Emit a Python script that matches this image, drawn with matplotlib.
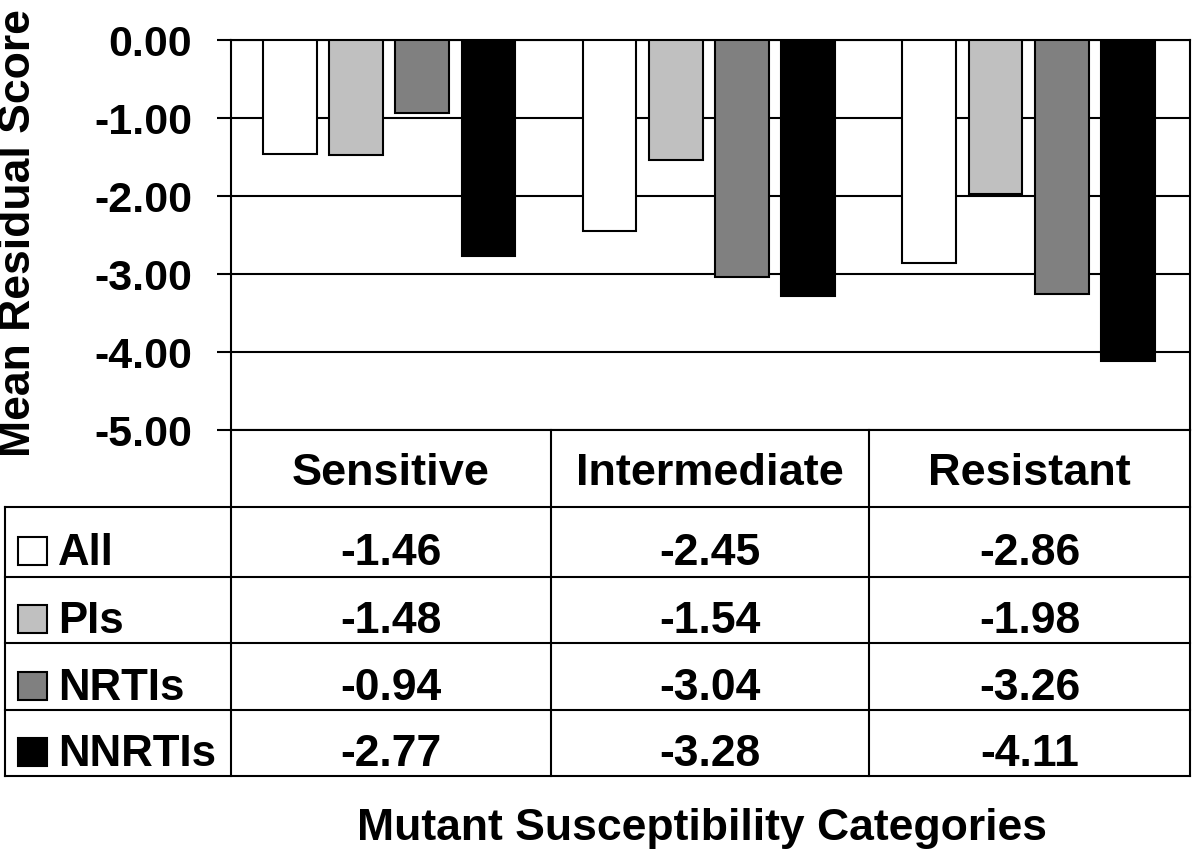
import matplotlib
matplotlib.use("Agg")
import matplotlib.pyplot as plt
from matplotlib.patches import Rectangle
from matplotlib.lines import Line2D
import numpy as np

# data
categories = ["Sensitive", "Intermediate", "Resistant"]
series_names = ["All", "PIs", "NRTIs", "NNRTIs"]
all_vals = [-1.46, -2.45, -2.86]
pis_vals = [-1.48, -1.54, -1.98]
nrtis_vals = [-0.94, -3.04, -3.26]
nnrtis_vals = [-2.77, -3.28, -4.11]
y_ticks = [0, -1, -2, -3, -4, -5]

series_vals = [all_vals, pis_vals, nrtis_vals, nnrtis_vals]
colors = ["#ffffff", "#c0c0c0", "#808080", "#000000"]

plt.rcParams["font.family"] = ["Liberation Sans", "DejaVu Sans"]
plt.rcParams["font.weight"] = "bold"

W, H = 1200, 852
fig = plt.figure(figsize=(W / 100, H / 100), dpi=100)


def fx(px):
    return px / W


def fy(py):
    return 1 - py / H


# plot area in pixel coords
left, right, top, bottom = 231, 1190, 40, 430
ax = fig.add_axes([fx(left), fy(bottom), fx(right - left), (bottom - top) / H])

n = len(categories)
x = np.arange(n)
step = 0.207
width = 0.168
for i, (vals, col) in enumerate(zip(series_vals, colors)):
    ax.bar(x + (i - 1.5) * step - 0.005, vals, width=width, color=col,
           edgecolor="black", linewidth=1.5, zorder=3)

ax.set_xlim(-0.5, n - 0.5)
ax.set_ylim(-5, 0)
ax.set_yticks(y_ticks)
ax.set_yticklabels([f"{v:.2f}" for v in y_ticks], fontsize=31, fontweight="bold")
ax.set_xticks([])
ax.tick_params(axis="y", direction="out", length=10, width=1.5, pad=18)
ax.yaxis.grid(True, color="black", linewidth=1.5, zorder=0)
ax.set_axisbelow(True)
for s in ["left", "bottom", "top", "right"]:
    ax.spines[s].set_linewidth(1.5)

fig.text(fx(19), fy(233), "Mean Residual Score", rotation=90, ha="center",
         va="center", fontsize=32, fontweight="bold")

# table below the plot
col_x = [231, 551, 869, 1190]
row_y = [430, 507, 577, 643, 710, 776]
lw = 1.5


def hline(y, x0, x1):
    fig.add_artist(Line2D([fx(x0), fx(x1)], [fy(y), fy(y)], color="black", lw=lw))


def vline(xp, y0, y1):
    fig.add_artist(Line2D([fx(xp), fx(xp)], [fy(y0), fy(y1)], color="black", lw=lw))


for xp in col_x:
    vline(xp, 430, 776)
vline(5, 507, 776)
for yp in row_y[1:]:
    hline(yp, 5, 1190)

for j, cat in enumerate(categories):
    cx = (col_x[j] + col_x[j + 1]) / 2
    fig.text(fx(cx), fy(485), cat, ha="center", va="baseline",
             fontsize=32.5, fontweight="bold")

for i, (name, vals, col) in enumerate(zip(series_names, series_vals, colors)):
    cy = (row_y[i + 1] + row_y[i + 2]) / 2
    base = cy + 23
    sq = 28
    fig.add_artist(Rectangle((fx(18), fy(base)), 29 / W, sq / H, facecolor=col,
                             edgecolor="black", lw=1.5))
    fig.text(fx(58), fy(base), name, ha="left", va="baseline", fontsize=31.5,
             fontweight="bold")
    for j, v in enumerate(vals):
        cx = (col_x[j] + col_x[j + 1]) / 2
        fig.text(fx(cx), fy(base), f"{v:.2f}", ha="center", va="baseline",
                 fontsize=32, fontweight="bold")

fig.text(fx(702), fy(840), "Mutant Susceptibility Categories", ha="center", va="baseline",
         fontsize=32, fontweight="bold")

fig.savefig("out.png", dpi=100)
